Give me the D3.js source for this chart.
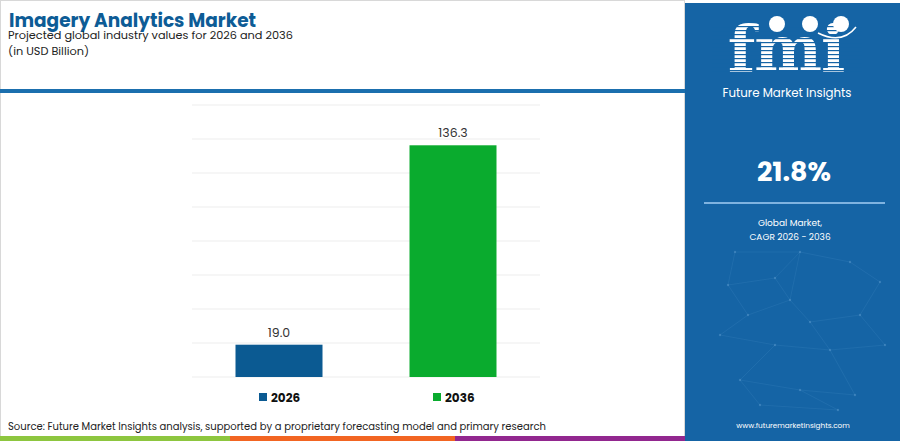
<!DOCTYPE html>
<html>
<head>
<meta charset="utf-8">
<script src="https://cdn.jsdelivr.net/npm/d3@7"></script>
<style>
  body { margin: 0; background: #fff; }
  svg text { font-family: "Poppins", "Lato", "Open Sans", sans-serif; }
</style>
</head>
<body>
<div id="box1"><svg id="box1_svg"></svg></div>
<script>
"use strict";

// data
const years = ['2026', '2036'];
const values = [19.0, 136.3];
const bar_colors = ['#0b5a92', '#0aab2e'];
const grid_ticks = [0, 20, 40, 60, 80, 100, 120, 140, 160];

const W = 900, H = 441;

const svg = d3.select('#box1_svg')
  .attr('width', W)
  .attr('height', H);

// frame
svg.append('rect').attr('x', 0.5).attr('y', 0.5).attr('width', 684).attr('height', H - 1)
  .attr('fill', '#fff').attr('stroke', '#d8d8d8');

// header
svg.append('text').text('Imagery Analytics Market')
  .attr('x', 9).attr('y', 27)
  .attr('fill', '#0d5c96').attr('font-size', 18.5).attr('font-weight', 700);
svg.append('text').text('Projected global industry values for 2026 and 2036')
  .attr('x', 8).attr('y', 39)
  .attr('fill', '#222').attr('font-size', 11.3);
svg.append('text').text('(in USD Billion)')
  .attr('x', 8).attr('y', 55)
  .attr('fill', '#222').attr('font-size', 11.3);

svg.append('rect').attr('x', 0).attr('y', 89).attr('width', 685).attr('height', 4)
  .attr('fill', '#1b6fae');

// chart
const x = d3.scaleBand().domain(years).range([192, 540]).paddingInner(0.5).paddingOuter(0.25);
const y = d3.scaleLinear().domain([0, 160]).range([377, 105]);

svg.append('g').selectAll('line').data(grid_ticks).join('line')
  .attr('x1', 192).attr('x2', 540)
  .attr('y1', d => y(d)).attr('y2', d => y(d))
  .attr('stroke', '#ededed').attr('stroke-width', 1);

svg.append('g').selectAll('rect').data(values).join('rect')
  .attr('x', (d, i) => x(years[i]))
  .attr('width', x.bandwidth())
  .attr('y', d => y(d))
  .attr('height', d => y(0) - y(d))
  .attr('fill', (d, i) => bar_colors[i]);

svg.append('g').selectAll('text').data(values).join('text')
  .text(d => d.toFixed(1))
  .attr('x', (d, i) => x(years[i]) + x.bandwidth() / 2)
  .attr('y', d => y(d) - 8)
  .attr('text-anchor', 'middle')
  .attr('fill', '#333').attr('font-size', 12.5);

// legend
const lg = svg.append('g').selectAll('g').data(years).join('g')
  .attr('transform', (d, i) => `translate(${x(d) + x.bandwidth() / 2 - 20},397)`);
lg.append('rect').attr('x', 0).attr('y', -4).attr('width', 8).attr('height', 8)
  .attr('fill', (d, i) => bar_colors[i]);
lg.append('text').text(d => d)
  .attr('x', 12).attr('y', 4.5)
  .attr('fill', '#111').attr('font-size', 12).attr('font-weight', 700);

// source
svg.append('text').text('Source: Future Market Insights analysis, supported by a proprietary forecasting model and primary research')
  .attr('x', 8).attr('y', 430)
  .attr('fill', '#222').attr('font-size', 10);

// colour strip
const strip = [['#8dc63f', 0, 230], ['#f26522', 230, 455], ['#92278f', 455, 685]];
svg.append('g').selectAll('rect').data(strip).join('rect')
  .attr('x', d => d[1]).attr('y', 436).attr('width', d => d[2] - d[1]).attr('height', 5)
  .attr('fill', d => d[0]);

// right panel
const panel = svg.append('g');
panel.append('rect').attr('x', 685).attr('y', 3).attr('width', 215).attr('height', H - 3)
  .attr('fill', '#1564a5');

// faint network
const net_pts = [[735, 252], [728, 285], [775, 278], [800, 252], [850, 262], [880, 282], [748, 315], [810, 322], [860, 315],
  [720, 335], [775, 345], [830, 350], [885, 345], [740, 380], [800, 390], [855, 395], [790, 300], [760, 405], [838, 410]];
const net_links = [[0, 1], [1, 2], [2, 3], [3, 4], [4, 5], [1, 6], [6, 16], [16, 7], [7, 8], [8, 5], [6, 9], [9, 10], [10, 11],
  [11, 12], [10, 13], [13, 14], [14, 15], [11, 15], [2, 16], [3, 16], [7, 11], [8, 12], [0, 3], [13, 17], [17, 18], [14, 18]];
panel.append('g').selectAll('line').data(net_links).join('line')
  .attr('x1', d => net_pts[d[0]][0]).attr('y1', d => net_pts[d[0]][1])
  .attr('x2', d => net_pts[d[1]][0]).attr('y2', d => net_pts[d[1]][1])
  .attr('stroke', '#4d8fc6').attr('stroke-opacity', 0.25).attr('stroke-width', 0.8);
panel.append('g').selectAll('circle').data(net_pts).join('circle')
  .attr('cx', d => d[0]).attr('cy', d => d[1]).attr('r', 1.2)
  .attr('fill', '#6aa4d4').attr('fill-opacity', 0.4);

// logo
panel.append('text').text('fmi')
  .attr('x', 786).attr('y', 71)
  .attr('text-anchor', 'middle')
  .attr('fill', '#fff').attr('font-size', 64).attr('font-weight', 700)
  .style('font-family', '"DejaVu Serif", serif')
  .attr('letter-spacing', -1);
panel.append('g').selectAll('rect').data(d3.range(26, 72, 4)).join('rect')
  .attr('x', 712).attr('y', d => d).attr('width', 150).attr('height', 1.2)
  .attr('fill', '#1564a5');
panel.append('g').selectAll('circle').data([777, 810, 841]).join('circle')
  .attr('cx', d => d).attr('cy', 24).attr('r', 8)
  .attr('fill', '#fff');
panel.append('path')
  .attr('d', 'M 818 33 Q 842 45 856 27')
  .attr('fill', 'none').attr('stroke', '#fff').attr('stroke-width', 1.5);
panel.append('text').text('Future Market Insights')
  .attr('x', 787).attr('y', 97)
  .attr('text-anchor', 'middle')
  .attr('fill', '#fff').attr('font-size', 11.8);

panel.append('text').text('21.8%')
  .attr('x', 794).attr('y', 181)
  .attr('text-anchor', 'middle')
  .attr('fill', '#fff').attr('font-size', 27).attr('font-weight', 700);
panel.append('rect').attr('x', 704).attr('y', 202).attr('width', 181).attr('height', 2)
  .attr('fill', '#7fb3e0');
panel.append('text').text('Global Market,')
  .attr('x', 790).attr('y', 226)
  .attr('text-anchor', 'middle')
  .attr('fill', '#fff').attr('font-size', 9);
panel.append('text').text('CAGR 2026 - 2036')
  .attr('x', 790).attr('y', 240)
  .attr('text-anchor', 'middle')
  .attr('fill', '#fff').attr('font-size', 9);
panel.append('text').text('www.futuremarketinsights.com')
  .attr('x', 793).attr('y', 428)
  .attr('text-anchor', 'middle')
  .attr('fill', '#fff').attr('font-size', 7.3);
</script>
</body>
</html>
